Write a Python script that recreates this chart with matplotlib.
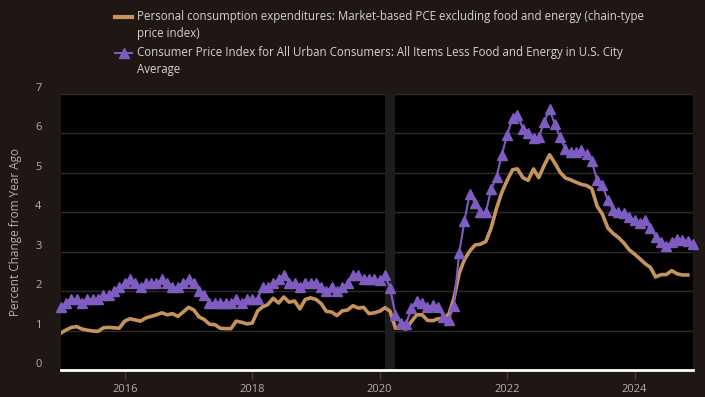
import matplotlib
matplotlib.use('Agg')
import matplotlib.pyplot as plt
import matplotlib.dates as mdates
from matplotlib.lines import Line2D
from matplotlib.transforms import ScaledTranslation
import pandas as pd

plt.rcParams['font.family'] = ['Open Sans', 'DejaVu Sans']

# percent change from year ago, monthly from Jan 2015
pce_label = ("Personal consumption expenditures: Market-based PCE excluding food and energy (chain-type\n"
             "price index)")
cpi_label = ("Consumer Price Index for All Urban Consumers: All Items Less Food and Energy in U.S. City\n"
             "Average")

pce = [
    0.94, 1.02, 1.08, 1.10, 1.04, 1.01, 0.99, 0.98, 1.07, 1.08, 1.07, 1.06,  # 2015
    1.24, 1.30, 1.27, 1.24, 1.32, 1.36, 1.40, 1.45, 1.40, 1.43, 1.36, 1.47,  # 2016
    1.59, 1.52, 1.35, 1.28, 1.16, 1.15, 1.06, 1.05, 1.05, 1.24, 1.21, 1.17,  # 2017
    1.19, 1.50, 1.60, 1.66, 1.82, 1.70, 1.85, 1.72, 1.75, 1.55, 1.79, 1.83,  # 2018
    1.79, 1.68, 1.49, 1.47, 1.38, 1.50, 1.52, 1.63, 1.57, 1.59, 1.43, 1.45,  # 2019
    1.49, 1.58, 1.49, 1.06, 1.07, 1.04, 1.23, 1.40, 1.40, 1.26, 1.25, 1.30,  # 2020
    1.31, 1.42, 1.80, 2.45, 2.80, 3.02, 3.17, 3.19, 3.26, 3.60, 4.10, 4.50,  # 2021
    4.81, 5.08, 5.10, 4.88, 4.81, 5.10, 4.88, 5.19, 5.46, 5.25, 5.01, 4.87,  # 2022
    4.82, 4.76, 4.71, 4.68, 4.60, 4.15, 3.95, 3.60, 3.46, 3.36, 3.22, 3.05,  # 2023
    2.94, 2.82, 2.70, 2.60, 2.36, 2.42, 2.42, 2.52, 2.44, 2.41, 2.41,        # 2024 (to Nov)
]

cpi = [
    1.60, 1.70, 1.80, 1.80, 1.70, 1.80, 1.80, 1.80, 1.90, 1.90, 2.00, 2.10,  # 2015
    2.20, 2.30, 2.20, 2.10, 2.20, 2.20, 2.20, 2.30, 2.20, 2.10, 2.10, 2.20,  # 2016
    2.30, 2.20, 2.00, 1.90, 1.70, 1.70, 1.70, 1.70, 1.70, 1.80, 1.70, 1.80,  # 2017
    1.80, 1.80, 2.10, 2.10, 2.20, 2.30, 2.40, 2.20, 2.20, 2.10, 2.20, 2.20,  # 2018
    2.20, 2.10, 2.00, 2.10, 2.00, 2.10, 2.20, 2.40, 2.40, 2.30, 2.30, 2.30,  # 2019
    2.27, 2.40, 2.07, 1.40, 1.20, 1.17, 1.57, 1.76, 1.71, 1.59, 1.65, 1.61,  # 2020
    1.35, 1.27, 1.62, 2.96, 3.78, 4.47, 4.23, 4.00, 4.00, 4.58, 4.90, 5.45,  # 2021
    5.97, 6.39, 6.48, 6.12, 6.00, 5.88, 5.90, 6.28, 6.61, 6.23, 5.90, 5.60,  # 2022
    5.52, 5.52, 5.58, 5.48, 5.29, 4.81, 4.68, 4.30, 4.07, 4.00, 3.97, 3.88,  # 2023
    3.80, 3.73, 3.80, 3.59, 3.38, 3.25, 3.14, 3.25, 3.33, 3.30, 3.28, 3.19,  # 2024
]

recession = ('2020-02-01', '2020-04-01')

BG = '#1e1713'
PCE_C = '#c6935c'
CPI_C = '#7e5cc0'
TXT = '#b3b0ad'

cpi_dates = pd.date_range('2015-01-01', periods=len(cpi), freq='MS')
pce_dates = pd.date_range('2015-01-01', periods=len(pce), freq='MS')

fig = plt.figure(figsize=(7.05, 3.97), dpi=100, facecolor=BG)
ax = fig.add_axes([61 / 705, 1 - 370 / 397, 632 / 705, 276 / 397])
ax.set_facecolor('black')

ax.axvspan(pd.Timestamp(recession[0]), pd.Timestamp(recession[1]), color='#1c1c1c', lw=0, zorder=1)
ax.plot(pce_dates, pce, color=PCE_C, lw=2.6, zorder=3)
ax.plot(cpi_dates, cpi, color=CPI_C, lw=1.5, marker='^', ms=6.5, zorder=4, clip_on=False)

ax.set_xlim(cpi_dates[0], cpi_dates[-1])
ax.set_ylim(0, 7)
ax.set_yticks(range(8))
ax.grid(axis='y', color='#2b2b2b', lw=1, zorder=0)
ax.set_axisbelow(True)
for s in ['top', 'right', 'left']:
    ax.spines[s].set_visible(False)
ax.spines['bottom'].set_color('white')
ax.spines['bottom'].set_linewidth(2)
ax.spines['bottom'].set_zorder(5)

ax.xaxis.set_major_locator(mdates.YearLocator(2))
ax.xaxis.set_major_formatter(mdates.DateFormatter('%Y'))
ax.tick_params(axis='x', color='#4a3b2c', length=7, width=1, labelcolor=TXT, labelsize=8, pad=3)
ax.tick_params(axis='y', length=0, labelcolor=TXT, labelsize=8, pad=14)
for lab in ax.get_yticklabels():
    lab.set_transform(lab.get_transform() + ScaledTranslation(0, 7 / 100, fig.dpi_scale_trans))

fig.text(16 / 705, 1 - 232 / 397, 'Percent Change from Year Ago', rotation=90,
         ha='center', va='center', color=TXT, fontsize=8.5)

# legend at the top
fig.add_artist(Line2D([115 / 705, 132 / 705], [1 - 17 / 397] * 2, color=PCE_C, lw=3,
                      transform=fig.transFigure))
fig.add_artist(Line2D([115 / 705, 132 / 705], [1 - 53 / 397] * 2, color=CPI_C, lw=1.5,
                      transform=fig.transFigure))
fig.add_artist(Line2D([123.5 / 705], [1 - 53 / 397], color=CPI_C, marker='^', ms=7, lw=0,
                      transform=fig.transFigure))
fig.text(137 / 705, 1 - 10 / 397, pce_label, ha='left', va='top', color='#d6d3d0',
         fontsize=8.3, linespacing=1.45)
fig.text(137 / 705, 1 - 46 / 397, cpi_label, ha='left', va='top', color='#d6d3d0',
         fontsize=8.3, linespacing=1.45)

fig.savefig('out.png', dpi=100, facecolor=BG)
